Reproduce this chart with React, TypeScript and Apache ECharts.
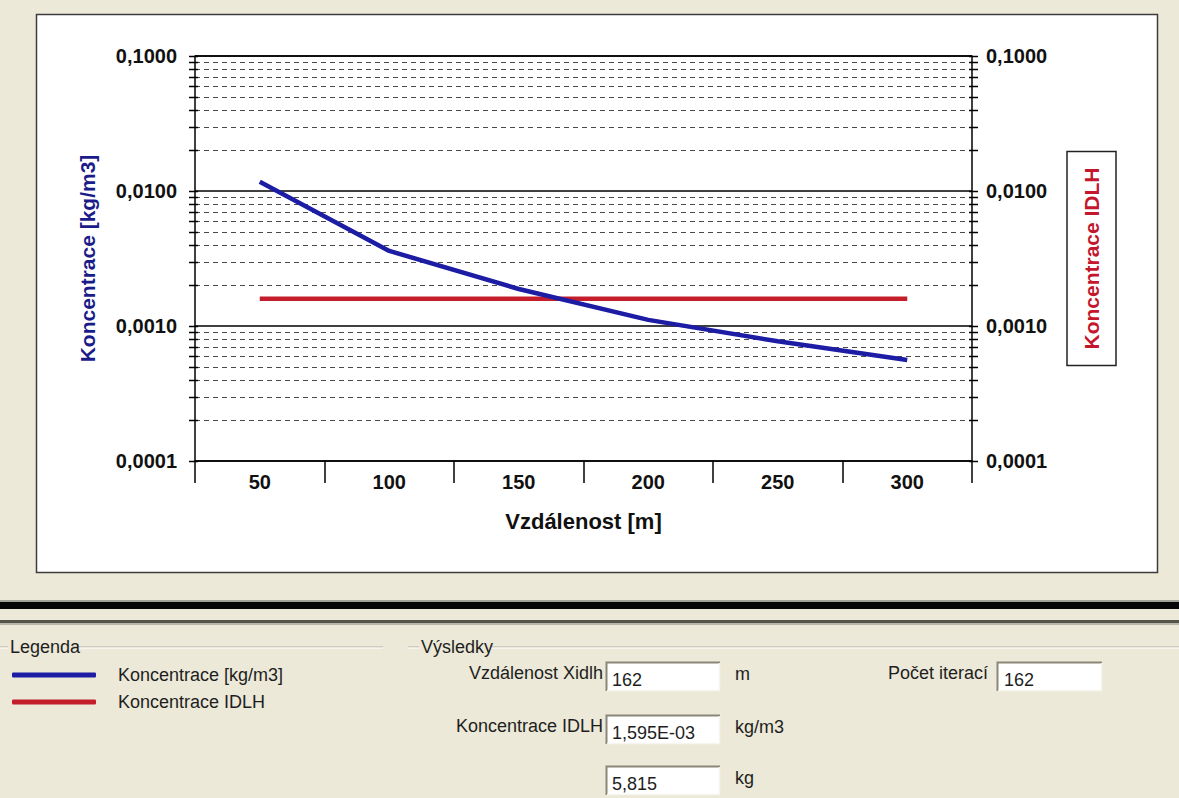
import React, { useEffect, useRef } from "react";
import * as echarts from "echarts";

// Distance categories along the x axis [m]
const distances = ["50", "100", "150", "200", "250", "300"];
// Concentration at each distance [kg/m3]
const concentration = [0.0117, 0.0036, 0.00188, 0.00111, 0.00077, 0.00056];
// IDLH threshold concentration [kg/m3]
const idlhLevel = 0.001595;
const idlhValues = [idlhLevel, idlhLevel, idlhLevel, idlhLevel, idlhLevel, idlhLevel];

// Log axis decades and the 2..9 subdivisions inside each decade
const decades = [0.0001, 0.001, 0.01, 0.1];
const subdivisions = [2, 3, 4, 5, 6, 7, 8, 9];

// Results panel
const resultLabels = ["Vzdálenost Xidlh", "Koncentrace IDLH", ""];
const resultValues = ["162", "1,595E-03", "5,815"];
const resultUnits = ["m", "kg/m3", "kg"];
const iterationLabel = "Počet iterací";
const iterationValue = "162";

const SERIES_MAIN = "Koncentrace [kg/m3]";
const SERIES_IDLH = "Koncentrace IDLH";

const chartFont = '"Liberation Sans", Arial, sans-serif';
const uiFont = '"Liberation Sans Narrow", "Arial Narrow", "Liberation Sans", Arial, sans-serif';
const BG = "#ECE9D8";

function buildTickRows(): number[][] {
  const rows: number[][] = [];
  decades.forEach((d, i) => {
    rows.push([0, d, 0]);
    if (i < decades.length - 1) {
      subdivisions.forEach((m) => rows.push([0, d * m, 1]));
    }
  });
  return rows;
}

function sunkenBox(x: number, y: number, w: number, h: number): any[] {
  return [
    { type: "rect", shape: { x, y, width: w, height: h }, style: { fill: "#ffffff" } },
    {
      type: "polyline",
      shape: { points: [[x + 0.5, y + h], [x + 0.5, y + 0.5], [x + w, y + 0.5]] },
      style: { stroke: "#8a8778", lineWidth: 2, fill: null },
    },
    {
      type: "polyline",
      shape: { points: [[x + 1, y + h - 0.5], [x + w - 0.5, y + h - 0.5], [x + w - 0.5, y + 1]] },
      style: { stroke: "#f6f5ef", lineWidth: 1.5, fill: null },
    },
  ];
}

function uiText(text: string, x: number, y: number, align: string = "left"): any {
  return {
    type: "text",
    style: {
      text,
      x,
      y,
      align,
      verticalAlign: "middle",
      fill: "#1e1e1e",
      fontSize: 18,
      fontFamily: uiFont,
    },
  };
}

function groupHeader(label: string, lineStart: number, textX: number, textEnd: number, lineEnd: number, y: number): any[] {
  return [
    { type: "line", shape: { x1: lineStart, y1: y, x2: textX - 2, y2: y }, style: { stroke: "#b3b0a2", lineWidth: 1 } },
    { type: "line", shape: { x1: lineStart, y1: y + 1, x2: textX - 2, y2: y + 1 }, style: { stroke: "#ffffff", lineWidth: 1 } },
    { type: "line", shape: { x1: textEnd + 2, y1: y, x2: lineEnd, y2: y }, style: { stroke: "#b3b0a2", lineWidth: 1 } },
    { type: "line", shape: { x1: textEnd + 2, y1: y + 1, x2: lineEnd, y2: y + 1 }, style: { stroke: "#ffffff", lineWidth: 1 } },
    uiText(label, textX, y),
  ];
}

function buildPanelGraphics(): any[] {
  const els: any[] = [];
  // white chart frame
  els.push({
    type: "rect",
    z: -10,
    shape: { x: 36.5, y: 14.5, width: 1121, height: 558 },
    style: { fill: "#ffffff", stroke: "#3c3c3c", lineWidth: 1.5 },
  });
  // splitter bar
  els.push({ type: "rect", shape: { x: 0, y: 600, width: 1179, height: 2 }, style: { fill: "#a3a39a" } });
  els.push({ type: "rect", shape: { x: 0, y: 602, width: 1179, height: 7 }, style: { fill: "#050505" } });
  els.push({ type: "rect", shape: { x: 0, y: 620, width: 1179, height: 3 }, style: { fill: "#55544c" } });
  els.push({ type: "rect", shape: { x: 0, y: 623, width: 1179, height: 2 }, style: { fill: "#b8b6aa" } });

  els.push(...groupHeader("Legenda", 0, 10, 70, 383, 647));
  els.push(...groupHeader("Výsledky", 408, 421, 489, 1179, 647));

  const rowsY = [662, 715, 766];
  rowsY.forEach((top, i) => {
    const mid = top + 14;
    if (resultLabels[i]) els.push(uiText(resultLabels[i], 603, mid - 3, "right"));
    els.push(...sunkenBox(606, top, 114, 29));
    els.push(uiText(resultValues[i], 612, mid + 4));
    els.push(uiText(resultUnits[i], 735, mid - 2));
  });
  els.push(uiText(iterationLabel, 988, rowsY[0] + 11, "right"));
  els.push(...sunkenBox(997, rowsY[0], 105, 29));
  els.push(uiText(iterationValue, 1004, rowsY[0] + 18));
  return els;
}

function buildOption(): any {
  const tickRows = buildTickRows();
  const yLabel = {
    formatter: (v: number) => v.toFixed(4).replace(".", ","),
    fontSize: 20,
    fontWeight: "bold",
    color: "#111",
    fontFamily: chartFont,
  };
  return {
    animation: false,
    backgroundColor: BG,
    textStyle: { fontFamily: chartFont },
    grid: { left: 195, right: 207, top: 56, bottom: 337, containLabel: false, outerBoundsMode: "none" },
    legend: {
      orient: "vertical",
      left: 7,
      top: 661,
      data: [SERIES_MAIN, SERIES_IDLH],
      icon: "roundRect",
      itemWidth: 84,
      itemHeight: 5,
      itemGap: 9,
      selectedMode: false,
      textStyle: { fontSize: 18, fontFamily: uiFont, color: "#1e1e1e", padding: [0, 0, 0, 17] },
    },
    xAxis: {
      type: "category",
      data: distances,
      boundaryGap: true,
      axisLine: { show: true, lineStyle: { color: "#000", width: 1.5 } },
      axisTick: { show: true, length: 22, interval: 0, lineStyle: { color: "#000", width: 1.5 } },
      axisLabel: { interval: 0, margin: 11, fontSize: 20, fontWeight: "bold", color: "#111", fontFamily: chartFont },
      splitLine: { show: false },
      name: "Vzdálenost [m]",
      nameLocation: "middle",
      nameGap: 49,
      nameTextStyle: { fontSize: 22, fontWeight: "bold", color: "#111", fontFamily: chartFont },
    },
    yAxis: [
      {
        type: "log",
        logBase: 10,
        min: 0.0001,
        max: 0.1,
        position: "left",
        axisLine: { show: true, lineStyle: { color: "#000", width: 1.5 } },
        axisTick: { show: false },
        axisLabel: { ...yLabel, margin: 18 },
        splitLine: { show: true, lineStyle: { color: "#000", width: 1.5 } },
        name: SERIES_MAIN,
        nameLocation: "middle",
        nameRotate: 90,
        nameGap: 97,
        nameTextStyle: { fontSize: 21, fontWeight: "bold", color: "#1b1b8a", fontFamily: chartFont },
      },
      {
        type: "log",
        logBase: 10,
        min: 0.0001,
        max: 0.1,
        position: "right",
        axisLine: { show: true, lineStyle: { color: "#000", width: 1.5 } },
        axisTick: { show: false },
        axisLabel: { ...yLabel, margin: 14 },
        splitLine: { show: false },
        name: SERIES_IDLH,
        nameLocation: "middle",
        nameRotate: 90,
        nameGap: 95,
        nameTextStyle: {
          fontSize: 21,
          fontWeight: "bold",
          color: "#c4162c",
          fontFamily: chartFont,
          borderColor: "#222",
          borderWidth: 1.5,
          padding: [14, 16],
        },
      },
    ],
    series: [
      {
        // dashed minor grid lines and the "+" tick marks on both y axes
        type: "custom",
        name: "ticks",
        silent: true,
        xAxisIndex: 0,
        yAxisIndex: 0,
        z: 1,
        data: tickRows,
        encode: { x: 0, y: 1 },
        renderItem: (params: any, api: any) => {
          const cs = params.coordSys;
          const y = Math.round(api.coord([0, api.value(1)])[1]) + 0.5;
          const x0 = cs.x;
          const x1 = cs.x + cs.width;
          const children: any[] = [];
          if (api.value(2) === 1) {
            children.push({
              type: "line",
              shape: { x1: x0, y1: y, x2: x1, y2: y },
              style: { stroke: "#4a4a4a", lineWidth: 1, lineDash: [5, 4] },
            });
          }
          children.push({
            type: "line",
            shape: { x1: x0 - 6, y1: y, x2: x0 + 3, y2: y },
            style: { stroke: "#000", lineWidth: 1.5 },
          });
          children.push({
            type: "line",
            shape: { x1: x1 - 3, y1: y, x2: x1 + 6, y2: y },
            style: { stroke: "#000", lineWidth: 1.5 },
          });
          return { type: "group", children };
        },
      },
      {
        name: SERIES_MAIN,
        type: "line",
        yAxisIndex: 0,
        data: concentration,
        symbol: "none",
        z: 3,
        color: "#1c1ca4",
        lineStyle: { color: "#1c1ca4", width: 4.5 },
      },
      {
        name: SERIES_IDLH,
        type: "line",
        yAxisIndex: 1,
        data: idlhValues,
        symbol: "none",
        z: 2,
        color: "#c41e2c",
        lineStyle: { color: "#c41e2c", width: 4.5 },
      },
    ],
    graphic: { elements: buildPanelGraphics() },
  };
}

export default function App() {
  const ref = useRef<HTMLDivElement>(null);
  useEffect(() => {
    if (!ref.current) return;
    const chart = echarts.init(ref.current, null, { renderer: "svg" });
    chart.setOption(buildOption());
    return () => chart.dispose();
  }, []);
  return (
    <div
      ref={ref}
      style={{ position: "absolute", left: 0, top: 0, width: 1179, height: 798, background: BG }}
    />
  );
}
